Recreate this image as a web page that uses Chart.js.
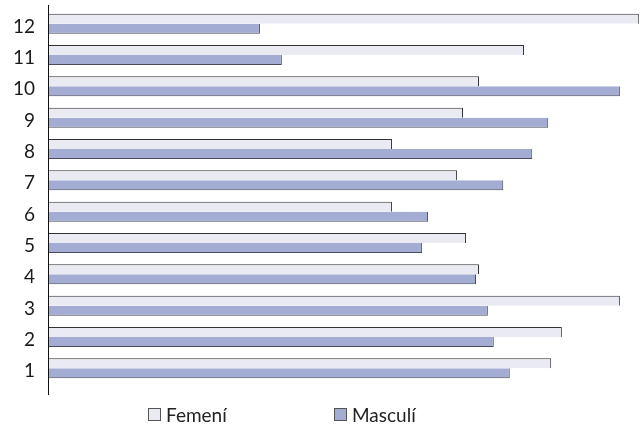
<!DOCTYPE html>
<html>
<head>
<meta charset="utf-8">
<script src="https://cdn.jsdelivr.net/npm/chart.js@4/dist/chart.umd.min.js"></script>
<style>
  html, body { margin: 0; padding: 0; background: #fff; }
  #wrap { position: relative; width: 640px; height: 432px; }
  #legend { position: absolute; left: 0; top: 403px; width: 640px; font-family: Lato, "Open Sans", sans-serif; font-size: 19px; color: #222; }
  .item { position: absolute; top: 0; display: flex; align-items: center; }
  .box { width: 11px; height: 11px; border: 1px solid #555; margin-right: 5px; }
</style>
</head>
<body>
<div id="wrap">
  <canvas id="c" width="640" height="432"></canvas>
  <div id="legend"></div>
</div>
<script>
const categories = ['1','2','3','4','5','6','7','8','9','10','11','12'];
const seriesNames = ['Femení', 'Masculí'];
const femeni  = [85.0, 86.8, 96.6, 72.8, 70.6, 58.1, 69.1, 58.1, 70.1, 72.8, 80.4, 99.8];
const masculi = [78.0, 75.3, 74.3, 72.3, 63.2, 64.2, 76.9, 81.8, 84.5, 96.6, 39.5, 35.8];
const colors = ['#eaeaf2', '#a3acd2'];
const borders = ['#333333', '#4a4a5a'];

const axisLine = {
  id: 'axisLine',
  afterDatasetsDraw(chart) {
    const ctx = chart.ctx;
    const x = chart.chartArea.left + 0.5;
    ctx.save();
    ctx.strokeStyle = '#111';
    ctx.lineWidth = 1;
    ctx.beginPath();
    ctx.moveTo(x, 5);
    ctx.lineTo(x, 395);
    ctx.stroke();
    ctx.restore();
  }
};

new Chart(document.getElementById('c'), {
  type: 'bar',
  data: {
    labels: categories,
    datasets: [
      { label: seriesNames[0], data: femeni, backgroundColor: colors[0], borderColor: borders[0],
        borderWidth: { top: 1, right: 1, bottom: 0, left: 0 }, borderSkipped: false },
      { label: seriesNames[1], data: masculi, backgroundColor: colors[1], borderColor: borders[1],
        borderWidth: { top: 0, right: 1, bottom: 1, left: 0 }, borderSkipped: false }
    ]
  },
  options: {
    indexAxis: 'y',
    responsive: false,
    animation: false,
    layout: { padding: { top: 8, bottom: 48, right: 0, left: 0 } },
    datasets: { bar: { categoryPercentage: 0.64, barPercentage: 1.0 } },
    plugins: { legend: { display: false }, tooltip: { enabled: false } },
    scales: {
      x: { display: false, min: 0, max: 100 },
      y: {
        reverse: true,
        grid: { display: false },
        border: { display: false },
        afterFit: (s) => { s.width = 48; s.paddingTop = 0; s.paddingBottom = 0; },
        ticks: { padding: 5, labelOffset: 3, color: '#1a1a1a', font: { family: 'Lato, "Open Sans", sans-serif', size: 19 } }
      }
    }
  },
  plugins: [axisLine]
});

const legend = document.getElementById('legend');
const lefts = [148, 334];
seriesNames.forEach((name, i) => {
  const it = document.createElement('div');
  it.className = 'item';
  it.style.left = lefts[i] + 'px';
  const b = document.createElement('div');
  b.className = 'box';
  b.style.background = colors[i];
  const t = document.createElement('span');
  t.textContent = name;
  it.appendChild(b); it.appendChild(t);
  legend.appendChild(it);
});
</script>
</body>
</html>
